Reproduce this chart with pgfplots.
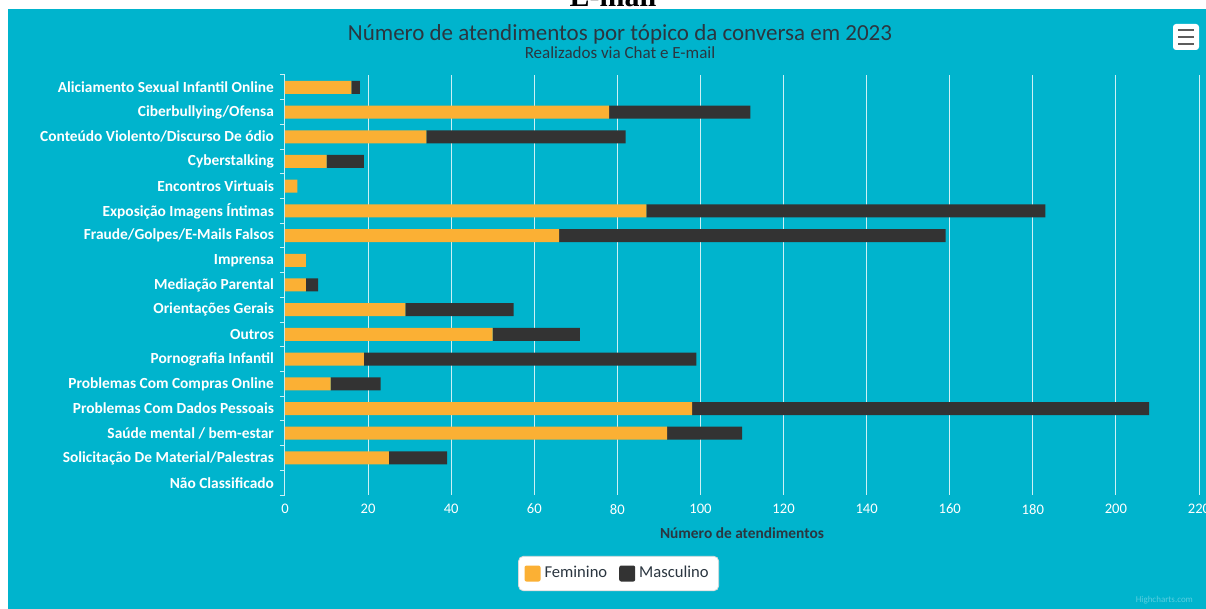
\documentclass[border=0pt]{standalone}
\usepackage{fontspec}
\setmainfont{Carlito}
\newfontfamily\seriffont{Liberation Serif}
\usepackage{pgfplots}
\pgfplotsset{compat=1.18}
\definecolor{bg}{HTML}{00B4CD}
\definecolor{fem}{HTML}{FBB034}
\definecolor{mas}{HTML}{333333}
\definecolor{tit}{HTML}{2B3640}
\begin{document}
\begin{tikzpicture}[x=0.5pt,y=0.5pt]
\fill[white] (0,0) rectangle (1206,609);
\fill[bg] (8,0) rectangle (1206,600);
\begin{scope}
\clip (0,600) rectangle (1206,609);
\node[font=\seriffont\bfseries\fontsize{15}{15}\selectfont, anchor=base, inner sep=0] at (613,602) {E-mail};
\end{scope}
\node[font=\fontsize{11.5}{13}\selectfont, text=tit, anchor=center] at (620,575) {Número de atendimentos por tópico da conversa em 2023};
\node[font=\fontsize{8.5}{10}\selectfont, text=tit, anchor=center] at (620,556) {Realizados via Chat e E-mail};
% menu icon
\fill[white, rounded corners=1.5pt] (1173,559) rectangle (1199,585);
\foreach \yy in {565,572,579} \draw[mas!80!white, line width=1.4pt] (1178,\yy) -- (1194,\yy);
\node[font=\fontsize{4.5}{5}\selectfont, text=white!35!bg, anchor=east] at (1200,9) {Highcharts.com};
\begin{axis}[
  at={(142.5pt,57pt)}, anchor=south west,
  scale only axis, width=457pt, height=210pt,
  xbar stacked, bar width=6.5pt,
  xmin=0, xmax=220, ymin=-0.5, ymax=16.5,
  y dir=reverse,
  ytick={0,...,16},
  yticklabels={Aliciamento Sexual Infantil Online,Ciberbullying/Ofensa,Conteúdo Violento/Discurso De ódio,Cyberstalking,Encontros Virtuais,Exposição Imagens Íntimas,Fraude/Golpes/E-Mails Falsos,Imprensa,Mediação Parental,Orientações Gerais,Outros,Pornografia Infantil,Problemas Com Compras Online,Problemas Com Dados Pessoais,Saúde mental / bem-estar,Solicitação De Material/Palestras,Não Classificado},
  minor ytick={-0.5,0.5,...,16.5},
  major tick length=0pt, minor tick length=2.5pt,
  tick align=outside,
  minor tick style={white!80!bg, line width=0.5pt},
  xtick={0,20,...,220},
  xmajorgrids, major grid style={white!80!bg, line width=0.5pt},
  axis x line*=bottom,
  x axis line style={draw=none},
  axis y line*=left,
  y axis line style={white!80!bg, line width=0.5pt, -},
  /pgf/number format/assume math mode=true,
  xticklabel style={font=\fontsize{7.3}{8}\selectfont, text=white, yshift=-1pt},
  yticklabel style={font=\bfseries\fontsize{7.7}{8}\selectfont, text=white, xshift=-2pt},
  xlabel={Número de atendimentos},
  xlabel style={font=\bfseries\fontsize{7.7}{8}\selectfont, text=tit, yshift=0pt},
  legend columns=2,
  legend style={at={(0.365,-0.187)}, anchor=center, fill=white, draw=white!85!black, rounded corners=2.5pt, font=\fontsize{8.3}{9}\selectfont, text=tit, inner sep=3pt, /tikz/every even column/.append style={column sep=4pt}},
  legend image code/.code={\fill[#1, rounded corners=1pt] (0pt,-4pt) rectangle (8pt,4pt);},
]
\addplot[fill=fem, draw=none] coordinates {
(16,0) (78,1) (34,2) (10,3) (3,4) (87,5) (66,6) (5,7) (5,8) (29,9) (50,10) (19,11) (11,12) (98,13) (92,14) (25,15) (0,16)};
\addplot[fill=mas, draw=none] coordinates {
(2,0) (34,1) (48,2) (9,3) (0,4) (96,5) (93,6) (0,7) (3,8) (26,9) (21,10) (80,11) (12,12) (110,13) (18,14) (14,15) (0,16)};
\legend{Feminino,Masculino}
\end{axis}
\pgfresetboundingbox
\useasboundingbox (0,0) rectangle (1206,609);
\end{tikzpicture}
\end{document}
